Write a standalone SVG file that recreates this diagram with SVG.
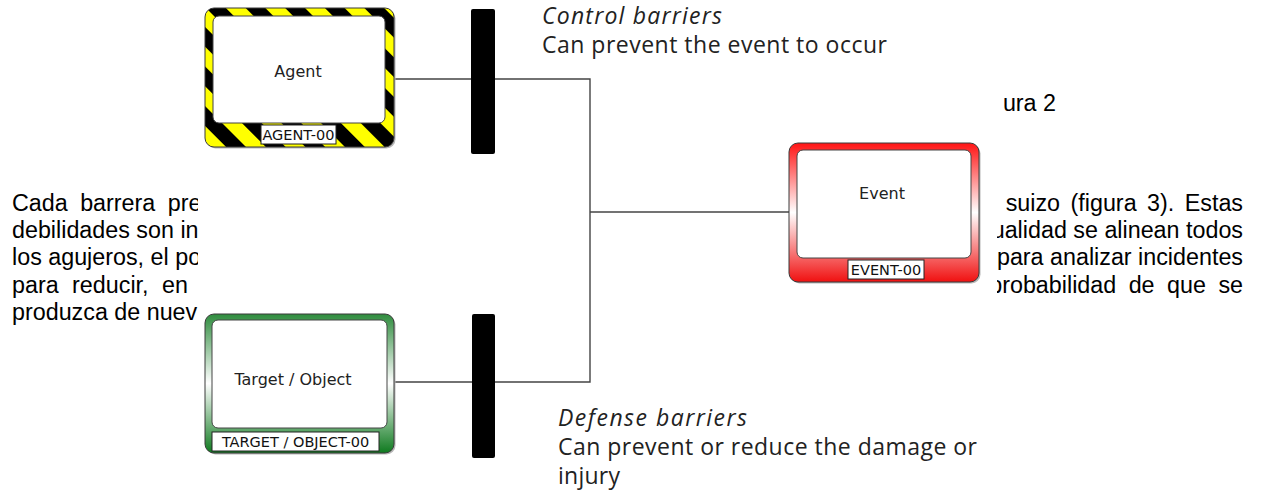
<svg xmlns="http://www.w3.org/2000/svg" width="1270" height="493" viewBox="0 0 1270 493">
  <style>
    .doc { font-family: "Liberation Sans", Arial, sans-serif; font-size: 23.3px; fill: #000; }
    .frame { stroke: #3a3a3a; stroke-width: 1; }
    .shadow { fill: #b8b8b8; }
    .inner { fill: #fff; stroke: #444; stroke-width: 1; }
    .tag { fill: #fff; stroke: #222; stroke-width: 1; }
    .title { font-family: "DejaVu Sans", Verdana, sans-serif; font-size: 16px; fill: #222; text-anchor: middle; }
    .tagtxt { font-family: "DejaVu Sans", Verdana, sans-serif; font-size: 14.5px; fill: #111; text-anchor: middle; }
    .bar { fill: #000; }
    .wire { fill: none; stroke: #444; stroke-width: 1.4; }
    .cap { font-family: "Open Sans", "DejaVu Sans", sans-serif; font-size: 23px; fill: #222; }
    .capi { font-style: italic; }
  </style>
  <defs>
    <pattern id="hazard" patternUnits="userSpaceOnUse" width="28" height="28" patternTransform="rotate(-45)">
      <rect x="0" y="0" width="28" height="28" fill="#ffff00"/>
      <rect x="0" y="0" width="14" height="28" fill="#000"/>
    </pattern>
    <linearGradient id="greenFade" x1="0" y1="0" x2="0" y2="1">
      <stop offset="0" stop-color="#2f8c3e"/>
      <stop offset="0.5" stop-color="#ffffff"/>
      <stop offset="1" stop-color="#0f7a1f"/>
    </linearGradient>
    <linearGradient id="redFade" x1="0" y1="0" x2="0" y2="1">
      <stop offset="0" stop-color="#ff1414"/>
      <stop offset="0.5" stop-color="#ffffff"/>
      <stop offset="1" stop-color="#f01010"/>
    </linearGradient>
  </defs>

  <!-- page text behind the figure -->
  <g id="page-text">
    <text class="doc" x="12" y="211" word-spacing="6">Cada barrera pre</text>
    <text class="doc" x="12" y="238">debilidades son in</text>
    <text class="doc" x="12" y="265">los agujeros, el po</text>
    <text class="doc" x="12" y="293" word-spacing="7">para reducir, en</text>
    <text class="doc" x="12" y="320">produzca de nuev</text>
    <text class="doc" x="1056" y="111" text-anchor="end">ura 2</text>
    <text class="doc" x="1243" y="211" text-anchor="end" word-spacing="4">o suizo (figura 3). Estas</text>
    <text class="doc" x="1243" y="238" text-anchor="end">tualidad se alinean todos</text>
    <text class="doc" x="1243" y="265" text-anchor="end">s para analizar incidentes</text>
    <text class="doc" x="1243" y="293" text-anchor="end" word-spacing="6">la probabilidad de que se</text>
  </g>

  <!-- figure canvas -->
  <rect x="198" y="0" width="799" height="493" fill="#fff"/>

  <!-- connectors -->
  <g id="connectors">
    <polyline class="wire" points="394,79 590,79 590,382 394,382"/>
    <line class="wire" x1="590" y1="212" x2="789" y2="212"/>
  </g>

  <!-- barriers -->
  <g id="control-barrier">
    <rect class="bar" x="471" y="9" width="24" height="145" rx="2"/>
    <text class="cap capi" x="542" y="24" textLength="180">Control barriers</text>
    <text class="cap" x="542" y="53" textLength="345">Can prevent the event to occur</text>
  </g>
  <g id="defense-barrier">
    <rect class="bar" x="472" y="314" width="23" height="144" rx="2"/>
    <text class="cap capi" x="558" y="426" textLength="189">Defense barriers</text>
    <text class="cap" x="558" y="455" textLength="419">Can prevent or reduce the damage or</text>
    <text class="cap" x="558" y="484" textLength="62">injury</text>
  </g>

  <!-- Agent -->
  <g id="agent">
    <rect class="shadow" x="206.5" y="9.5" width="189" height="139" rx="9"/>
    <rect class="frame" x="205" y="8" width="189" height="139" rx="9" fill="url(#hazard)"/>
    <rect class="inner" x="213" y="16" width="172" height="107" rx="6"/>
    <text class="title" x="298" y="77">Agent</text>
    <rect class="tag" x="261" y="125" width="75" height="19"/>
    <text class="tagtxt" x="298.5" y="140">AGENT-00</text>
  </g>

  <!-- Target / Object -->
  <g id="target">
    <rect class="shadow" x="206.5" y="315.5" width="189" height="139" rx="9"/>
    <rect class="frame" x="205" y="314" width="189" height="139" rx="9" fill="url(#greenFade)"/>
    <rect class="inner" x="212" y="320" width="175" height="108" rx="6"/>
    <text class="title" x="293" y="385">Target / Object</text>
    <rect class="tag" x="212" y="432" width="167" height="19"/>
    <text class="tagtxt" x="295.5" y="447" font-size="15">TARGET / OBJECT-00</text>
  </g>

  <!-- Event -->
  <g id="event">
    <rect class="shadow" x="790.5" y="144.5" width="190" height="139" rx="9"/>
    <rect class="frame" x="789" y="143" width="190" height="139" rx="9" fill="url(#redFade)"/>
    <rect class="inner" x="797" y="150" width="174" height="108" rx="6"/>
    <text class="title" x="882" y="199" font-size="13.5">Event</text>
    <rect class="tag" x="848" y="260" width="76" height="19"/>
    <text class="tagtxt" x="886" y="275">EVENT-00</text>
  </g>
</svg>
